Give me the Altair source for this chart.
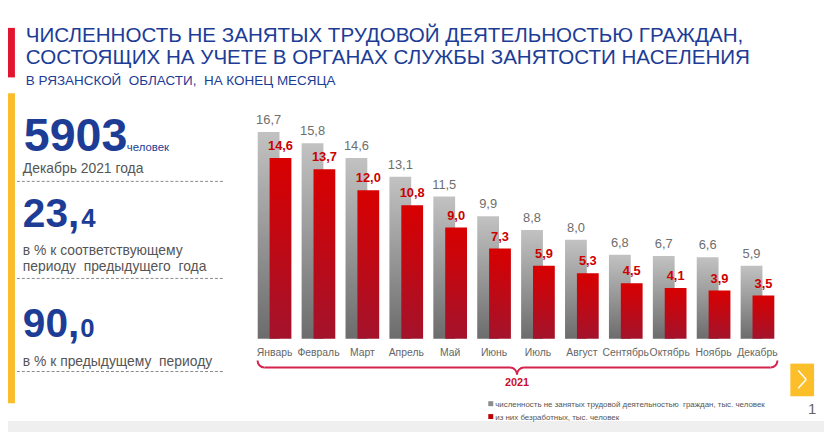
import math
import altair as alt
import pandas as pd

# ---------------- data ----------------
months = ["Январь", "Февраль", "Март", "Апрель", "Май", "Июнь",
          "Июль", "Август", "Сентябрь", "Октябрь", "Ноябрь", "Декабрь"]
total = [16.7, 15.8, 14.6, 13.1, 11.5, 9.9, 8.8, 8.0, 6.8, 6.7, 6.6, 5.9]
unemployed = [14.6, 13.7, 12.0, 10.8, 9.0, 7.3, 5.9, 5.3, 4.5, 4.1, 3.9, 3.5]

NB = "\u00a0"
title_lines = ["ЧИСЛЕННОСТЬ НЕ ЗАНЯТЫХ ТРУДОВОЙ ДЕЯТЕЛЬНОСТЬЮ ГРАЖДАН,",
               "СОСТОЯЩИХ НА УЧЕТЕ В ОРГАНАХ СЛУЖБЫ ЗАНЯТОСТИ НАСЕЛЕНИЯ"]
subtitle = f"В РЯЗАНСКОЙ {NB}ОБЛАСТИ, {NB}НА КОНЕЦ МЕСЯЦА"
legend_labels = [f"численность не занятых трудовой деятельностью {NB}граждан, тыс. человек",
                 "из них безработных, тыс. человек"]
year_label = "2021"
kpi_main = "5903"
kpi_main_unit = "человек"
kpi_main_note = "Декабрь 2021 года"
kpi_yoy = ("23,", "4")
kpi_yoy_note = ["в % к соответствующему", f"периоду {NB}предыдущего {NB}года"]
kpi_mom = ("90,", "0")
kpi_mom_note = f"в % к предыдущему {NB}периоду"
page_no = "1"

# ---------------- setup ----------------
O = 8  # page margin; decorations given in page pixels minus this
W, H = 824, 424
FONT = "Liberation Sans"
NAVY = "#1c3c96"
GREY_TXT = "#555555"

fmt = lambda v: f"{v:.1f}".replace(".", ",")
df = pd.DataFrame({"month": months, "total": total, "unemp": unemployed})
df["total_lbl"] = df["total"].map(fmt)
df["unemp_lbl"] = df["unemp"].map(fmt)

one = alt.Data(values=[{"k": 0}])

xsc = alt.Scale(type="band", domain=months, range=[255 - O, 787 - O],
                paddingInner=0, paddingOuter=0)
ysc = alt.Scale(domain=[0, 20], range=[340 - O, 90 - O], nice=False, zero=True)
X = alt.X("month:N", scale=xsc, axis=None, sort=None)

grey_grad = alt.Gradient(gradient="linear", x1=0, x2=0, y1=0, y2=1,
                         stops=[alt.GradientStop(color="#c2c2c2", offset=0),
                                alt.GradientStop(color="#6c6c6c", offset=1)])
red_grad = alt.Gradient(gradient="linear", x1=0, x2=0, y1=0, y2=1,
                        stops=[alt.GradientStop(color="#d80000", offset=0),
                               alt.GradientStop(color="#a3132c", offset=1)])

base = alt.Chart(df)
bars_total = base.mark_bar(width=22, xOffset=-6, color=grey_grad).encode(
    x=X, y=alt.Y("total:Q", scale=ysc, axis=None))
bars_unemp = base.mark_bar(width=22, xOffset=6, color=red_grad).encode(
    x=X, y=alt.Y("unemp:Q", scale=ysc, axis=None))
lbl_total = base.mark_text(dx=-6, dy=-8, baseline="alphabetic", fontSize=13,
                           color="#6e6e6e", font=FONT).encode(
    x=X, y=alt.Y("total:Q", scale=ysc, axis=None), text="total_lbl:N")
lbl_unemp = base.mark_text(dx=6, dy=-8, baseline="alphabetic", fontSize=13,
                           fontWeight="bold", color="#cc0000", font=FONT).encode(
    x=X, y=alt.Y("unemp:Q", scale=ysc, axis=None), text="unemp_lbl:N")
lbl_month = base.mark_text(baseline="middle", fontSize=10.5, color="#666666",
                           font=FONT).encode(x=X, y=alt.value(354 - O), text="month:N")


def txt(s, x, y, size, color, weight="normal", align="left", baseline="alphabetic", font=FONT):
    return alt.Chart(one).mark_text(text=s, fontSize=size, color=color, fontWeight=weight,
                                    align=align, baseline=baseline, font=font).encode(
        x=alt.value(x - O), y=alt.value(y - O))


def rect(x1, x2, y1, y2, color):
    return alt.Chart(one).mark_rect(color=color).encode(
        x=alt.value(x1 - O), x2=alt.value(x2 - O), y=alt.value(y1 - O), y2=alt.value(y2 - O))


def rule(x1, x2, y1, y2, color, width=1, dash=None):
    kw = dict(color=color, strokeWidth=width)
    if dash:
        kw["strokeDash"] = dash
    return alt.Chart(one).mark_rule(**kw).encode(
        x=alt.value(x1 - O), x2=alt.value(x2 - O), y=alt.value(y1 - O), y2=alt.value(y2 - O))


def arc(cx, cy, r, t1, t2, color, width=2):
    return alt.Chart(one).mark_arc(color=color, radius=r + width / 2, radius2=r - width / 2,
                                   theta=t1, theta2=t2).encode(
        x=alt.value(cx - O), y=alt.value(cy - O))


layers = []
# backgrounds / side bars
layers += [rect(8, 15, 26, 76, "#e2152f"),
           rect(8, 15, 92, 405, "#fbbd2c"),
           rect(8, 840, 423, 440, "#efefef"),
           rect(798, 822, 365, 398, "#fcbf2a")]
# title
layers += [txt(title_lines[0], 26, 40, 20.8, NAVY),
           txt(title_lines[1], 26, 62, 20.8, NAVY),
           txt(subtitle, 26, 84, 13.6, NAVY)]
# KPI panel
layers += [txt(kpi_main, 24, 150, 47, NAVY, "bold"),
           txt(kpi_main_unit, 128, 150, 11.5, NAVY),
           txt(kpi_main_note, 23, 173, 14, GREY_TXT),
           rule(17, 225, 181, 181, "#8a8a8a", 1, [3, 2]),
           txt(kpi_yoy[0], 23, 227, 41, NAVY, "bold"),
           txt(kpi_yoy[1], 82, 227, 26, NAVY, "bold"),
           txt(kpi_yoy_note[0], 23, 255, 14, GREY_TXT),
           txt(kpi_yoy_note[1], 23, 272, 14, GREY_TXT),
           rule(17, 225, 279, 279, "#8a8a8a", 1, [3, 2]),
           txt(kpi_mom[0], 23, 338, 41, NAVY, "bold"),
           txt(kpi_mom[1], 81, 338, 26, NAVY, "bold"),
           txt(kpi_mom_note, 23, 367, 14, GREY_TXT),
           rule(17, 225, 373, 373, "#8a8a8a", 1, [3, 2])]
# chart
layers += [bars_total, bars_unemp, lbl_total, lbl_unemp, lbl_month]
# brace
BR = "#d4234c"
pi = math.pi
layers += [arc(267, 362, 7, pi, 1.5 * pi, BR),
           rule(267, 515, 369, 369, BR, 2),
           arc(515, 376, 7, 0, 0.5 * pi, BR),
           arc(529, 376, 7, 1.5 * pi, 2 * pi, BR),
           rule(529, 778, 369, 369, BR, 2),
           arc(778, 362, 7, 0.5 * pi, pi, BR),
           txt(year_label, 522, 388, 11, "#c8102e", "bold", align="center")]
# legend
layers += [rect(493, 498, 403, 408, "#8c8c8c"),
           txt(legend_labels[0], 500, 409, 8, GREY_TXT),
           rect(493, 498, 416, 421, "#c00000"),
           txt(legend_labels[1], 500, 422, 8, GREY_TXT)]
# arrow + page number
layers += [rule(806, 814, 372, 381, "white", 1.5),
           rule(814, 806, 381, 390, "white", 1.5),
           txt(page_no, 820, 416, 15, "#666666", align="center")]

chart = alt.layer(*layers).properties(
    width=W, height=H, autosize=alt.AutoSizeParams(type="none"), padding=0,
    background="white"
).configure_view(stroke=None)

chart.save("out.html", embed_options={"renderer": "svg", "actions": False})
